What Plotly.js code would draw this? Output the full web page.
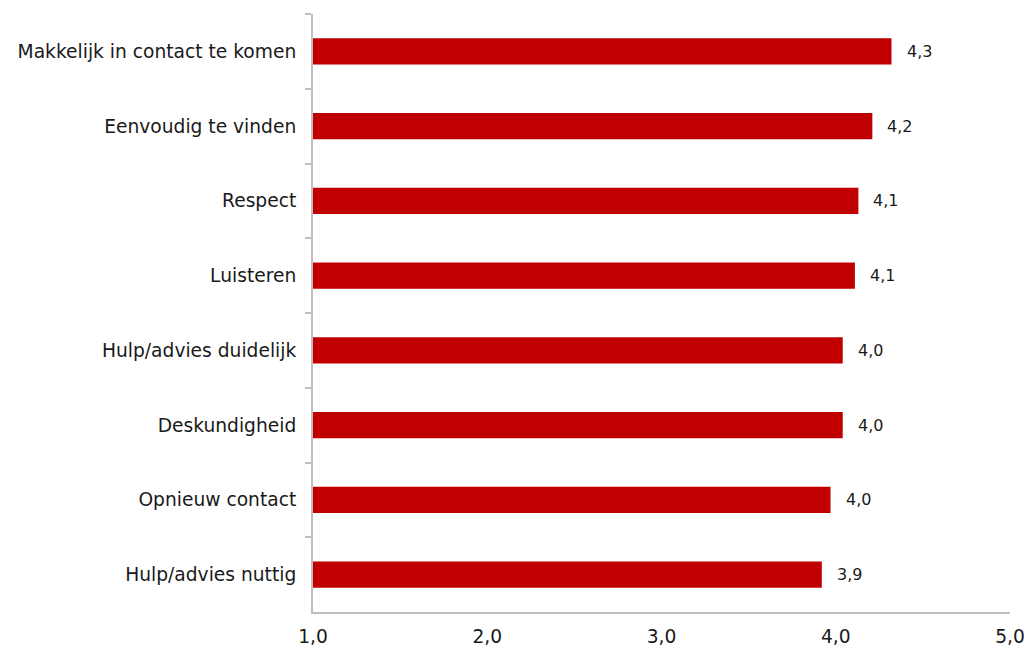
<!DOCTYPE html>
<html>
<head>
<meta charset="utf-8">
<script src="https://cdn.plot.ly/plotly-3.0.1.min.js"></script>
<style>html,body{margin:0;padding:0;background:#fff;}#chart{width:1027px;height:647px;}</style>
</head>
<body>
<div id="chart"></div>
<script>
const categories = [
  "Makkelijk in contact te komen",
  "Eenvoudig te vinden",
  "Respect",
  "Luisteren",
  "Hulp/advies duidelijk",
  "Deskundigheid",
  "Opnieuw contact",
  "Hulp/advies nuttig"
];
const scores = [4.32, 4.21, 4.13, 4.11, 4.04, 4.04, 3.97, 3.92];
const tickValues = [1, 2, 3, 4, 5];
const tickLabels = ["1,0", "2,0", "3,0", "4,0", "5,0"];

const fmt = v => v.toFixed(1).replace('.', ',');

const trace = {
  type: 'bar',
  orientation: 'h',
  x: scores,
  y: categories,
  marker: {color: '#c00000', line: {width: 0}},
  hoverinfo: 'none'
};

const annotations = categories.map((c, i) => ({
  x: scores[i], y: c, xref: 'x', yref: 'y',
  text: fmt(scores[i]), showarrow: false,
  xanchor: 'left', xshift: 13,
  font: {family: 'DejaVu Sans, Verdana, sans-serif', size: 16, color: '#1a1a1a'}
}));

const layout = {
  width: 1027, height: 647,
  margin: {l: 313, r: 17, t: 14, b: 35},
  paper_bgcolor: '#fff', plot_bgcolor: '#fff',
  showlegend: false,
  bargap: 0.65,
  font: {family: 'DejaVu Sans, Verdana, sans-serif', size: 18.67, color: '#1a1a1a'},
  xaxis: {
    range: [1, 5], tickvals: tickValues, ticktext: tickLabels,
    showgrid: false, zeroline: false,
    showline: true, linecolor: '#bfbfbf', linewidth: 2,
    ticks: '', tickfont: {size: 18.67},
    ticklabelstandoff: 7
  },
  yaxis: {
    autorange: 'reversed', type: 'category',
    showgrid: false, zeroline: false,
    showline: true, linecolor: '#bfbfbf', linewidth: 2,
    ticks: 'outside', tickson: 'boundaries', ticklen: 6, tickwidth: 2, tickcolor: '#bfbfbf',
    tickfont: {size: 18.67},
    ticklabelstandoff: 11
  },
  annotations: annotations
};

Plotly.newPlot('chart', [trace], layout, {displayModeBar: false, staticPlot: true});
</script>
</body>
</html>
